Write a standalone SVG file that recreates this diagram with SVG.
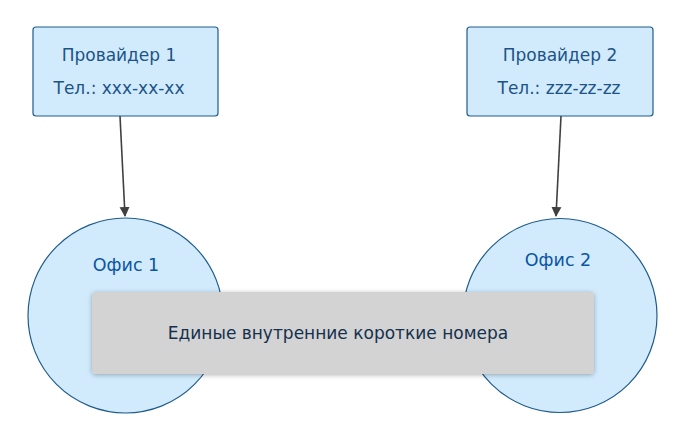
<svg xmlns="http://www.w3.org/2000/svg" width="677" height="442" viewBox="0 0 677 442">
<style>
.box{fill:#d1ebfd;stroke:#1f5c8c;stroke-width:1.2}
.t{font-family:"DejaVu Sans",Verdana,sans-serif;font-size:17px;text-anchor:middle}
.pt{fill:#1c5487}
.ot{fill:#0a55a3;font-size:17.5px}
.edge{stroke:#404040;stroke-width:1.6;fill:none}
</style>
<defs>
<marker id="arr" markerWidth="10" markerHeight="16" refX="9" refY="5" orient="auto" markerUnits="userSpaceOnUse" viewBox="0 0 10 10"><path d="M0,0 L10,5 L0,10 z" fill="#404040"/></marker>
<filter id="sh" x="-5%" y="-20%" width="110%" height="140%"><feDropShadow dx="0" dy="1" stdDeviation="2.5" flood-color="#000" flood-opacity="0.3"/></filter>
</defs>
<g id="connectors">
<path class="edge" d="M120,116 L125,216" marker-end="url(#arr)"/>
<path class="edge" d="M561,116 L556,216" marker-end="url(#arr)"/>
</g>
<g id="provider1">
<rect class="box" x="33" y="27" width="185" height="89" rx="3"/>
<text class="t pt" x="119" y="61">Провайдер 1</text>
<text class="t pt" x="119" y="94">Тел.: xxx-xx-xx</text>
</g>
<g id="provider2">
<rect class="box" x="467" y="27" width="186" height="89" rx="3"/>
<text class="t pt" x="560" y="61">Провайдер 2</text>
<text class="t pt" x="559" y="94">Тел.: zzz-zz-zz</text>
</g>
<g id="office1">
<circle class="box" cx="125.5" cy="315.5" r="97.5"/>
<text class="t ot" x="126" y="271">Офис 1</text>
</g>
<g id="office2">
<circle class="box" cx="560" cy="315.5" r="97"/>
<text class="t ot" x="558" y="266">Офис 2</text>
</g>
<g id="shared">
<rect x="92" y="292" width="502" height="82" rx="4" fill="#d3d3d3" filter="url(#sh)"/>
<text class="t" x="338" y="339" fill="#14304d">Единые внутренние короткие номера</text>
</g>
</svg>
